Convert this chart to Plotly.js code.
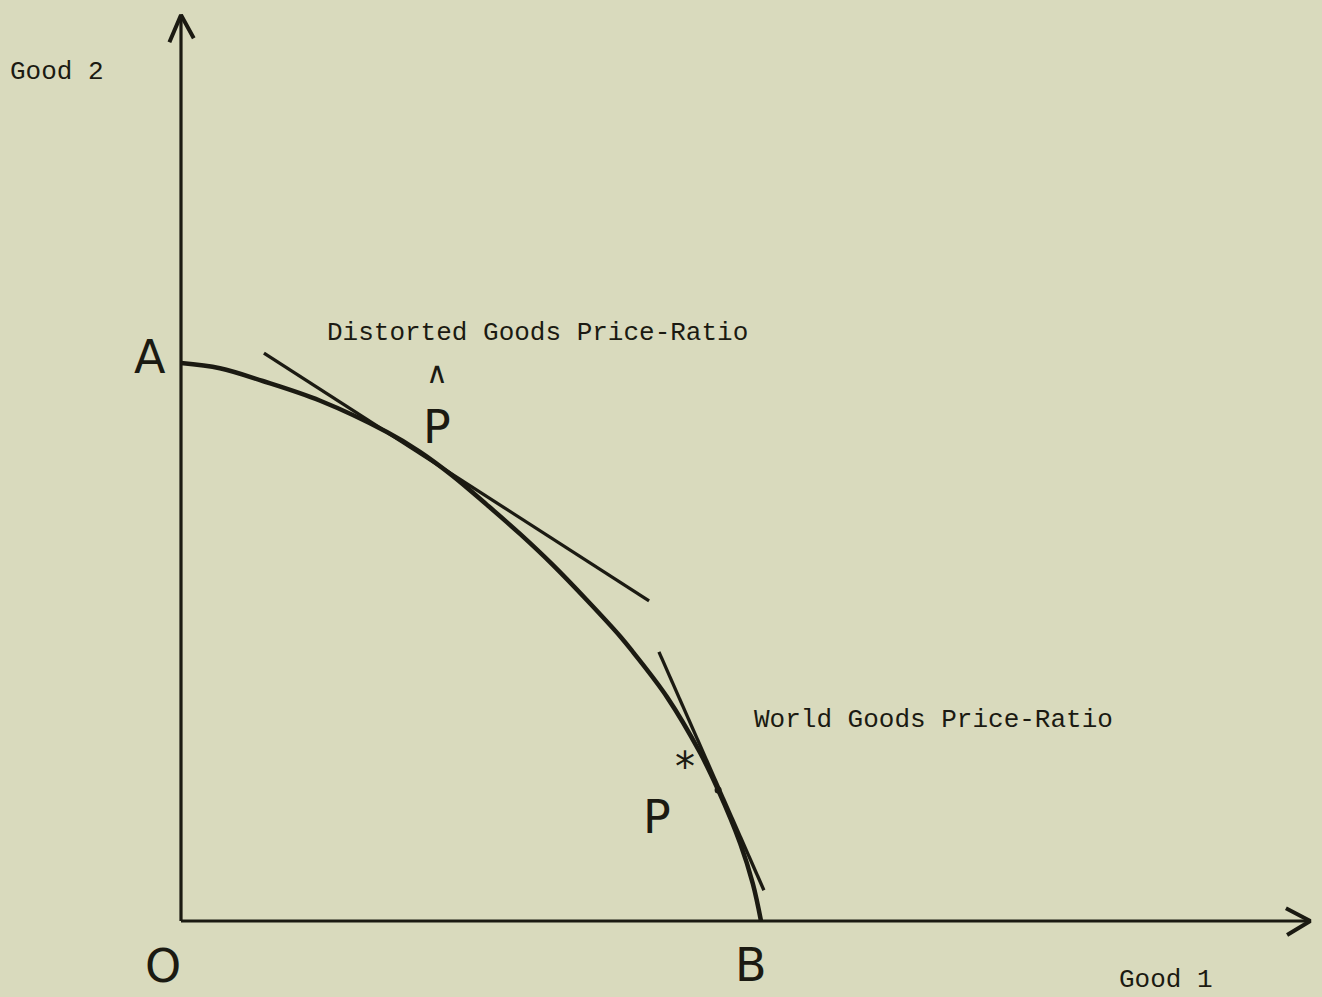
<!DOCTYPE html>
<html>
<head>
<meta charset="utf-8">
<script src="https://cdn.plot.ly/plotly-3.0.1.min.js"></script>
<style>html,body{margin:0;padding:0;background:#d9dabd;}</style>
</head>
<body>
<div id="chart" style="width:1322px;height:997px;"></div>
<script>
// Production possibility frontier A -> B (Good 1, Good 2)
const ppfGood1 = [0, 0.67, 1.41, 2.40, 3.55, 4.12, 4.69, 5.28, 5.85, 6.41, 7.00, 7.57, 7.79, 8.38, 8.95, 9.26, 9.64, 9.86, 10.0];
const ppfGood2 = [9.62, 9.53, 9.31, 8.97, 8.43, 8.09, 7.67, 7.17, 6.67, 6.14, 5.53, 4.91, 4.64, 3.86, 2.90, 2.26, 1.34, 0.64, 0];

// Distorted goods price-ratio line (tangent at P-hat)
const distortedGood1 = [1.43, 8.07];
const distortedGood2 = [9.79, 5.52];

// World goods price-ratio line (tangent at P*)
const worldGood1 = [8.24, 10.05];
const worldGood2 = [4.64, 0.53];

// Tangency points
const pointLabels = ["P-hat", "P*"];
const pointGood1 = [4.29, 9.26];
const pointGood2 = [7.95, 2.26];

// Axis extents
const axisGood1Max = 19.47;
const axisGood2Max = 15.62;

const ink = '#1b1a12';
const bg = '#d9dabd';

const traces = [
  // axes
  {x: [0, 0], y: [0, axisGood2Max], mode: 'lines', line: {color: ink, width: 3.2}, hoverinfo: 'skip'},
  {x: [0, axisGood1Max], y: [0, 0], mode: 'lines', line: {color: ink, width: 3.2}, hoverinfo: 'skip'},
  // arrowheads (built from axis ends)
  {x: [-0.2, 0, 0.22], y: [axisGood2Max - 0.47, axisGood2Max, axisGood2Max - 0.4], mode: 'lines', line: {color: ink, width: 4}, hoverinfo: 'skip'},
  {x: [axisGood1Max - 0.42, axisGood1Max, axisGood1Max - 0.4], y: [0.22, 0, -0.24], mode: 'lines', line: {color: ink, width: 4}, hoverinfo: 'skip'},
  // PPF
  {x: ppfGood1, y: ppfGood2, mode: 'lines', line: {color: ink, width: 4.5, shape: 'spline', smoothing: 1}, name: 'PPF'},
  // price lines
  {x: distortedGood1, y: distortedGood2, mode: 'lines', line: {color: ink, width: 3.3}, name: 'Distorted Goods Price-Ratio'},
  {x: worldGood1, y: worldGood2, mode: 'lines', line: {color: ink, width: 3.3}, name: 'World Goods Price-Ratio'},
  // tangency point dot
  {x: [pointGood1[1]], y: [pointGood2[1]], mode: 'markers', marker: {color: ink, size: 7}, hoverinfo: 'skip'}
];

const mono = {family: 'Liberation Mono, Courier New, monospace', size: 26, color: ink};
const hand = {family: 'DejaVu Sans, sans-serif', size: 46, color: ink};

function txt(x, y, text, font, xanchor, yanchor) {
  return {x: x, y: y, xref: 'x', yref: 'y', text: text, showarrow: false, font: font,
          xanchor: xanchor || 'center', yanchor: yanchor || 'middle'};
}

const annotations = [
  txt(-2.98, 14.64, 'Good 2', mono, 'left'),
  txt(16.14, -1.02, 'Good 1', mono, 'left'),
  txt(2.48, 10.14, 'Distorted Goods Price-Ratio', mono, 'left'),
  txt(9.85, 3.47, 'World Goods Price-Ratio', mono, 'left'),
  txt(-0.53, 9.72, 'A', hand),
  txt(-0.31, -0.78, 'O', hand),
  txt(9.83, -0.76, 'B', hand),
  txt(pointGood1[0] + 0.12, pointGood2[0] + 0.06, '<span style="font-size:30px">∧</span><br>P', hand, 'center', 'bottom'),
  txt(pointGood1[1] - 1.05, pointGood2[1] - 0.47, 'P', hand),
  txt(pointGood1[1] - 0.57, pointGood2[1] + 0.40, '*', {family: 'DejaVu Sans, sans-serif', size: 40, color: ink})
];

const layout = {
  width: 1322, height: 997,
  margin: {l: 0, r: 0, t: 0, b: 0},
  paper_bgcolor: bg, plot_bgcolor: bg,
  showlegend: false,
  xaxis: {range: [-3.1207, 19.672], visible: false, fixedrange: true},
  yaxis: {range: [-1.3103, 15.879], visible: false, fixedrange: true},
  annotations: annotations
};

Plotly.newPlot('chart', traces, layout, {displayModeBar: false, staticPlot: true});
</script>
</body>
</html>
